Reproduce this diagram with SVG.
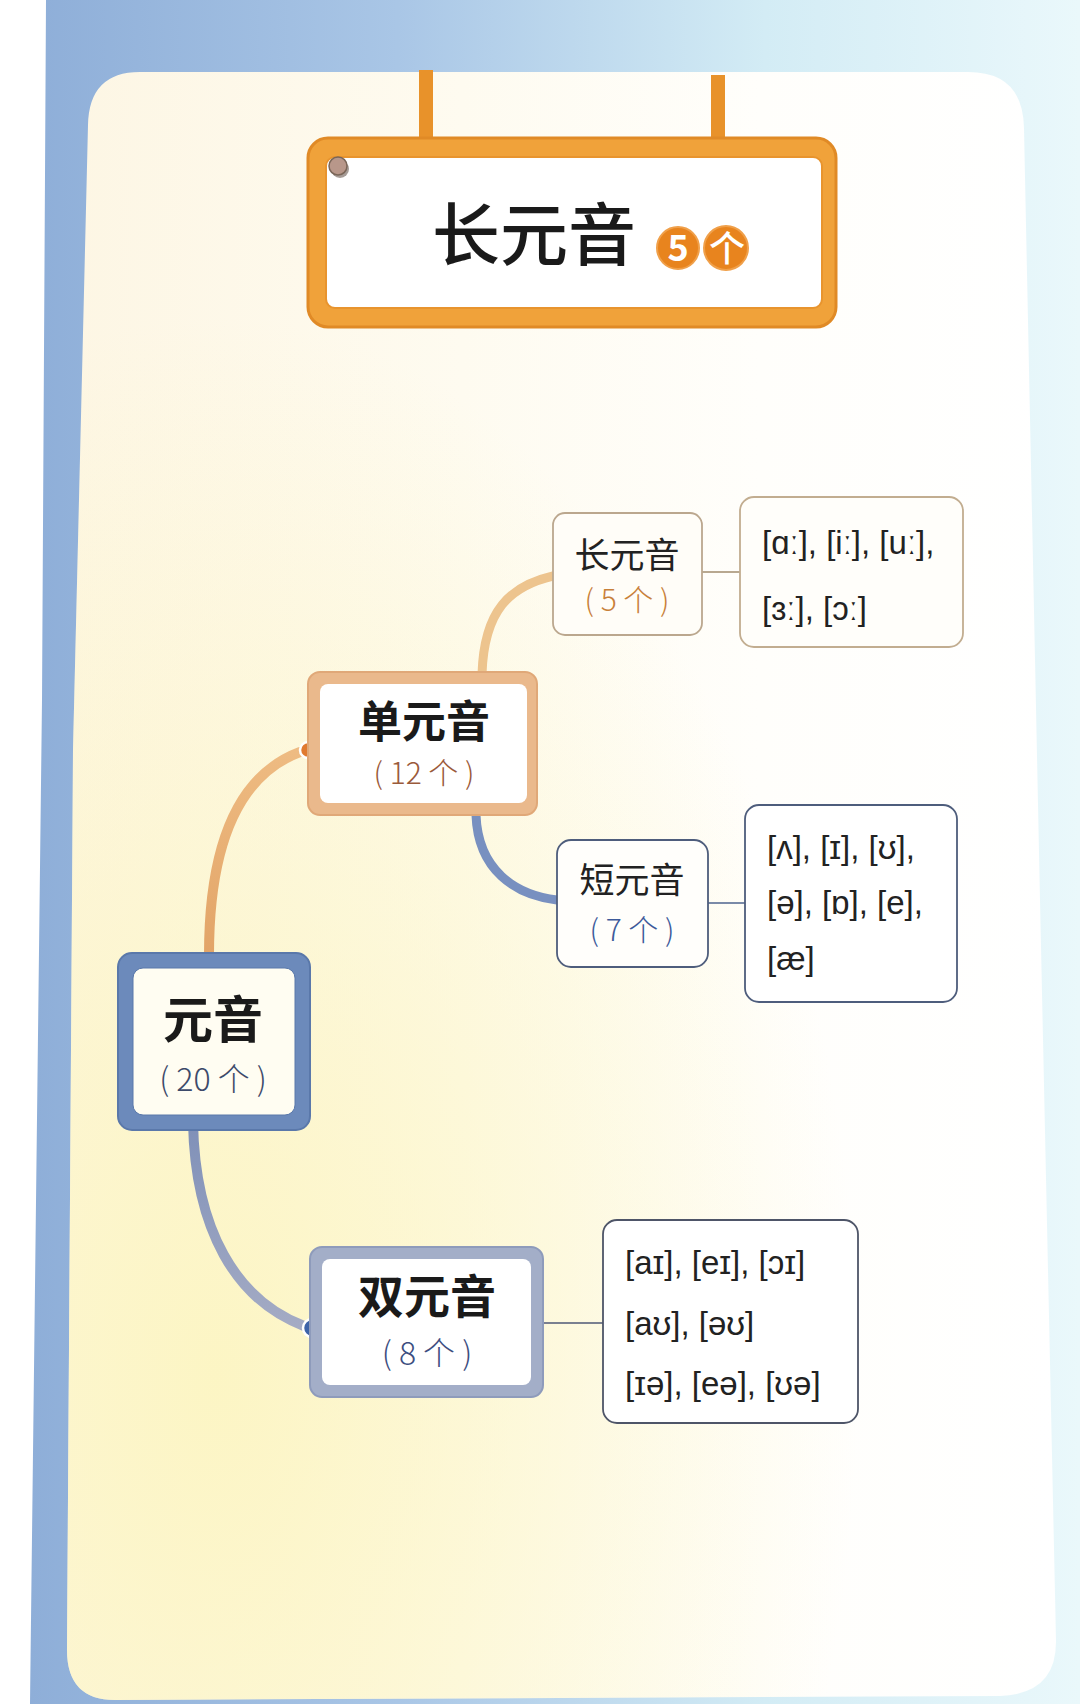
<svg xmlns="http://www.w3.org/2000/svg" width="1080" height="1704" viewBox="0 0 1080 1704">
<defs>
<linearGradient id="bgBlue" x1="0" y1="0" x2="1" y2="0">
<stop offset="0" stop-color="#8eaed8"/>
<stop offset="0.35" stop-color="#a9c6e6"/>
<stop offset="0.7" stop-color="#d3ecf5"/>
<stop offset="1" stop-color="#eaf8fb"/>
</linearGradient>
<linearGradient id="panelFill" x1="0" y1="0" x2="1" y2="0">
<stop offset="0" stop-color="#fdf6e4"/>
<stop offset="0.4" stop-color="#fefbf0"/>
<stop offset="0.7" stop-color="#fffefb"/>
<stop offset="1" stop-color="#ffffff"/>
</linearGradient>
<radialGradient id="yellowGlow" cx="0.15" cy="0.8" r="0.65">
<stop offset="0" stop-color="#fcf5c2" stop-opacity="0.95"/>
<stop offset="1" stop-color="#fcf5c2" stop-opacity="0"/>
</radialGradient>
<linearGradient id="orangeLine" x1="0" y1="1" x2="0" y2="0">
<stop offset="0" stop-color="#e2a467"/>
<stop offset="1" stop-color="#eebb82"/>
</linearGradient>
<linearGradient id="greyLine" x1="0" y1="0" x2="0" y2="1">
<stop offset="0" stop-color="#7f90b8"/>
<stop offset="1" stop-color="#a4abc4"/>
</linearGradient>
<style>
.cjk{font-family:"Noto Sans CJK SC","Noto Sans",sans-serif;text-anchor:middle}
.main{font-weight:700;fill:#1a1a1a}
.sub{font-weight:400;fill:#222}
.cnt{font-weight:300}
.ipa{font-family:"Liberation Sans","DejaVu Sans",sans-serif;font-size:33px;fill:#222}
.conn{fill:none;stroke-linecap:round}
</style>
</defs>

<!-- background -->
<rect x="0" y="0" width="1080" height="1704" fill="#ffffff"/>
<path d="M46 0 L1080 0 L1080 1704 L30 1704 L42 700 Z" fill="url(#bgBlue)"/>
<path d="M140 72 L968 72 Q1023 72 1024 128 L1040 900 L1056 1640 Q1057 1694 1000 1696 L115 1700 Q67 1700 67 1650 L73 750 L88 125 Q89 72 140 72 Z" fill="url(#panelFill)"/>
<path d="M140 72 L968 72 Q1023 72 1024 128 L1040 900 L1056 1640 Q1057 1694 1000 1696 L115 1700 Q67 1700 67 1650 L73 750 L88 125 Q89 72 140 72 Z" fill="url(#yellowGlow)"/>

<!-- title sign -->
<g id="title">
<rect x="419" y="70" width="14" height="78" fill="#e8922a"/>
<rect x="711" y="75" width="14" height="73" fill="#e8922a"/>
<rect x="308" y="138" width="528" height="189" rx="20" fill="#f0a23a" stroke="#e08a26" stroke-width="3"/>
<rect x="326" y="157" width="496" height="151" rx="9" fill="#ffffff" stroke="#e8942e" stroke-width="2"/>
<circle cx="340" cy="169" r="9" fill="#6a5a52" opacity="0.6"/>
<circle cx="338" cy="166" r="9" fill="#b8978a" stroke="#7a6658" stroke-width="1.5"/>
<text class="cjk" x="534" y="260" font-size="68" font-weight="500" fill="#1a1a1a">长元音</text>
<circle cx="678" cy="248" r="21" fill="#e8841e" stroke="#f0a04a" stroke-width="2"/>
<circle cx="726" cy="248" r="22" fill="#e8841e" stroke="#f0a04a" stroke-width="2"/>
<text class="cjk" x="678" y="261" font-size="36" font-weight="700" fill="#ffffff">5</text>
<text class="cjk" x="727" y="262" font-size="36" font-weight="500" fill="#ffffff">个</text>
</g>

<!-- connectors -->
<g id="connectors">
<path class="conn" d="M209 955 C209 850 236 776 300 752" stroke="url(#orangeLine)" stroke-width="10"/>
<path class="conn" d="M193 1122 C195 1230 236 1300 304 1326" stroke="url(#greyLine)" stroke-width="10"/>
<path class="conn" d="M482 674 C484 610 510 586 553 576" stroke="#edc48e" stroke-width="9"/>
<path class="conn" d="M476 815 C478 870 515 895 557 900" stroke="#7890c0" stroke-width="9"/>
<line x1="702" y1="572" x2="740" y2="572" stroke="#b8a890" stroke-width="2"/>
<line x1="708" y1="903" x2="745" y2="903" stroke="#7a8aa8" stroke-width="2"/>
<line x1="543" y1="1323" x2="603" y2="1323" stroke="#7a8090" stroke-width="2"/>
<circle cx="308" cy="750" r="8" fill="#e07a30" stroke="#ffffff" stroke-width="2.5"/>
<circle cx="312" cy="1328" r="9" fill="#3d63a8" stroke="#ffffff" stroke-width="2.5"/>
</g>

<!-- root -->
<g id="node-yuanyin">
<rect x="118" y="953" width="192" height="177" rx="14" fill="#6c8abb" stroke="#5a78aa" stroke-width="2"/>
<rect x="133" y="968" width="162" height="147" rx="10" fill="#fffdf2" stroke="#5a78aa" stroke-width="1"/>
<text class="cjk main" x="213" y="1038" font-size="50">元音</text>
<text class="cjk cnt" x="213" y="1091" font-size="32" fill="#3d4a6a">( 20 个 )</text>
</g>

<g id="node-danyuanyin">
<rect x="308" y="672" width="229" height="143" rx="12" fill="#eab98c" stroke="#e0a878" stroke-width="2"/>
<rect x="320" y="684" width="207" height="119" rx="8" fill="#ffffff"/>
<text class="cjk main" x="424" y="738" font-size="44">单元音</text>
<text class="cjk cnt" x="424" y="784" font-size="30" fill="#9a5a3a">( 12 个 )</text>
</g>

<g id="node-shuangyuanyin">
<rect x="310" y="1247" width="233" height="150" rx="12" fill="#a3aec8" stroke="#8e9bbb" stroke-width="2"/>
<rect x="322" y="1259" width="209" height="126" rx="8" fill="#ffffff"/>
<text class="cjk main" x="427" y="1313" font-size="46">双元音</text>
<text class="cjk cnt" x="427" y="1365" font-size="32" fill="#3d4e80">( 8 个 )</text>
</g>

<g id="node-changyuanyin">
<rect x="553" y="513" width="149" height="122" rx="12" fill="#fffdf8" stroke="#bba78e" stroke-width="1.8"/>
<text class="cjk sub" x="627" y="568" font-size="35">长元音</text>
<text class="cjk cnt" x="627" y="611" font-size="30" fill="#c8803a">( 5 个 )</text>
</g>

<g id="node-duanyuanyin">
<rect x="557" y="840" width="151" height="127" rx="14" fill="#fffefb" stroke="#4e5d7c" stroke-width="1.8"/>
<text class="cjk sub" x="632" y="893" font-size="35">短元音</text>
<text class="cjk cnt" x="632" y="941" font-size="30" fill="#3d5a9a">( 7 个 )</text>
</g>

<g id="list-long">
<rect x="740" y="497" width="223" height="150" rx="14" fill="#fffefa" stroke="#c2ad90" stroke-width="1.8"/>
<text class="ipa" x="762" y="554">[ɑː], [iː], [uː],</text>
<text class="ipa" x="762" y="620">[ɜː], [ɔː]</text>
</g>

<g id="list-short">
<rect x="745" y="805" width="212" height="197" rx="14" fill="#ffffff" stroke="#4e5d7c" stroke-width="1.8"/>
<text class="ipa" x="767" y="859">[ʌ], [ɪ], [ʊ],</text>
<text class="ipa" x="767" y="914">[ə], [ɒ], [e],</text>
<text class="ipa" x="767" y="970">[æ]</text>
</g>

<g id="list-diph">
<rect x="603" y="1220" width="255" height="203" rx="14" fill="#ffffff" stroke="#4e5568" stroke-width="1.8"/>
<text class="ipa" x="625" y="1274">[aɪ], [eɪ], [ɔɪ]</text>
<text class="ipa" x="625" y="1335">[aʊ], [əʊ]</text>
<text class="ipa" x="625" y="1395">[ɪə], [eə], [ʊə]</text>
</g>
</svg>
